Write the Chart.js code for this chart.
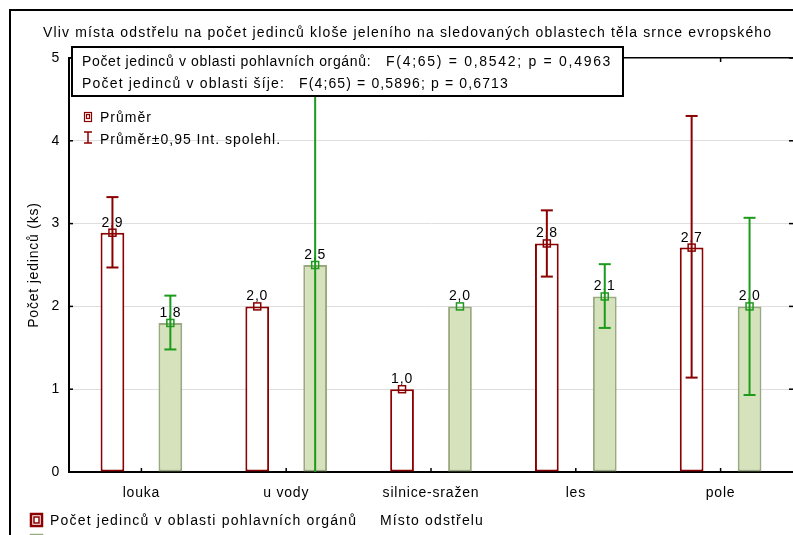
<!DOCTYPE html>
<html>
<head>
<meta charset="utf-8">
<script src="https://cdn.jsdelivr.net/npm/chart.js@4.4.0/dist/chart.umd.min.js"></script>
<style>
  html, body { margin: 0; padding: 0; background: #fff; }
  #wrap { width: 793px; height: 535px; position: relative; overflow: hidden; }
  canvas { display: block; }
</style>
</head>
<body>
<div id="wrap"><canvas id="c" width="793" height="535"></canvas></div>
<script>
// Hunting site categories
const categories = ['louka', 'u vody', 'silnice-sražen', 'les', 'pole'];

// Mean counts and 95 % confidence limits – genital region
const genitalMean = [2.89, 2.00, 1.00, 2.76, 2.71];
const genitalLow  = [2.47, 2.00, 1.00, 2.36, 1.14];
const genitalHigh = [3.32, 2.00, 1.00, 3.16, 4.30];

// Mean counts and 95 % confidence limits – neck region
const neckMean = [1.80, 2.50, 2.00, 2.12, 2.00];
const neckLow  = [1.48, -0.90, 2.00, 1.74, 0.93];
const neckHigh = [2.13, 5.90, 2.00, 2.51, 3.07];

const yTicks = [0, 1, 2, 3, 4, 5];

const seriesNames = ['Počet jedinců v oblasti pohlavních orgánů', 'Počet jedinců v oblasti šíje'];
const chartTitle = 'Vliv místa odstřelu na počet jedinců kloše jeleního na sledovaných oblastech těla srnce evropského';
const anovaNames = ['Počet jedinců v oblasti pohlavních orgánů:', 'Počet jedinců v oblasti šíje:'];
const anovaStats = ['F(4;65) = 0,8542; p = 0,4963', 'F(4;65) = 0,5896; p = 0,6713'];
const yTitle = 'Počet jedinců (ks)';
const xTitle = 'Místo odstřelu';
const legendMean = 'Průměr';
const legendCI = 'Průměr±0,95 Int. spolehl.';

const RED = '#8b0000';
const GREEN = '#1c9a1c';
const FONT = '"Liberation Sans", Arial, sans-serif';

function fmt(v) { return v.toFixed(1).replace('.', ','); }

function seg(ctx, x1, y1, x2, y2) {
  ctx.beginPath(); ctx.moveTo(x1, y1); ctx.lineTo(x2, y2); ctx.stroke();
}

// draw a left-aligned string spread evenly over the span [x1, x2]
function spanText(ctx, text, x1, x2, y) {
  ctx.save();
  ctx.letterSpacing = '0px';
  const w0 = ctx.measureText(text).width;
  const ls = (x2 - x1 - w0) / text.length;
  ctx.letterSpacing = ls.toFixed(2) + 'px';
  ctx.textAlign = 'left';
  ctx.fillText(text, x1, y);
  ctx.restore();
}

const overlay = {
  id: 'overlay',
  beforeDraw(chart) {
    chart.ctx.letterSpacing = '0.8px';
  },
  afterDatasetsDraw(chart) {
    const ctx = chart.ctx, a = chart.chartArea;
    const xs = chart.scales.x, ys = chart.scales.y;
    ctx.save();

    // inward tick marks on all four sides
    ctx.strokeStyle = '#000'; ctx.lineWidth = 1.5;
    categories.forEach((c, i) => {
      const px = xs.getPixelForTick(i);
      seg(ctx, px, a.bottom, px, a.bottom - 4);
      seg(ctx, px, a.top, px, a.top + 4);
    });
    yTicks.forEach(v => {
      const py = ys.getPixelForValue(v);
      seg(ctx, a.left, py, a.left + 4, py);
      seg(ctx, a.right, py, a.right - 4, py);
    });

    // value labels above bars
    ctx.font = '14px ' + FONT;
    ctx.fillStyle = '#000';
    ctx.textAlign = 'center';
    ctx.textBaseline = 'alphabetic';
    chart.data.datasets.forEach((ds, di) => {
      chart.getDatasetMeta(di).data.forEach((bar, i) => {
        ctx.fillText(fmt(ds.data[i]), bar.x, bar.y - 6);
      });
    });

    // confidence interval whiskers and mean markers
    ctx.beginPath();
    ctx.rect(a.left, a.top, a.right - a.left, a.bottom - a.top);
    ctx.clip();
    chart.data.datasets.forEach((ds, di) => {
      ctx.strokeStyle = ds.whiskerColor;
      chart.getDatasetMeta(di).data.forEach((bar, i) => {
        const lo = ds.low[i], hi = ds.high[i];
        const x = bar.x;
        if (hi > lo) {
          const yl = ys.getPixelForValue(lo), yh = ys.getPixelForValue(hi);
          ctx.lineWidth = 2;
          seg(ctx, x, yl, x, yh);
          seg(ctx, x - 6, yl, x + 6, yl);
          seg(ctx, x - 6, yh, x + 6, yh);
        }
        ctx.lineWidth = 1.5;
        const ym = ys.getPixelForValue(ds.data[i]);
        ctx.strokeRect(x - 3.5, ym - 3.5, 7, 7);
      });
    });
    ctx.restore();
  },
  afterDraw(chart) {
    const ctx = chart.ctx;
    ctx.save();
    ctx.letterSpacing = '0.8px';
    ctx.font = '14px ' + FONT;
    ctx.fillStyle = '#000';
    ctx.textAlign = 'left';
    ctx.textBaseline = 'alphabetic';

    // title
    spanText(ctx, chartTitle, 43, 772, 37);

    // ANOVA results box
    ctx.fillStyle = '#fff';
    ctx.fillRect(72, 47, 551, 49);
    ctx.strokeStyle = '#000'; ctx.lineWidth = 2;
    ctx.strokeRect(72, 47, 551, 49);
    ctx.fillStyle = '#000';
    spanText(ctx, anovaNames[0], 82, 371, 66);
    spanText(ctx, anovaStats[0], 386, 612, 66);
    spanText(ctx, anovaNames[1], 82, 285, 88);
    spanText(ctx, anovaStats[1], 299, 509, 88);

    // in-plot legend for mean and interval
    ctx.strokeStyle = RED; ctx.lineWidth = 1.2;
    ctx.strokeRect(84.5, 112.5, 7, 9);
    ctx.strokeRect(86.5, 114.5, 3, 4);
    ctx.lineWidth = 1.5;
    seg(ctx, 88, 132, 88, 143);
    seg(ctx, 84, 132, 92, 132);
    seg(ctx, 84, 143, 92, 143);
    spanText(ctx, legendMean, 100, 152, 122);
    spanText(ctx, legendCI, 100, 281, 144);

    // series legend below the axis
    ctx.strokeStyle = RED; ctx.lineWidth = 2.5;
    ctx.strokeRect(31, 514, 11, 12);
    ctx.lineWidth = 1.5;
    ctx.strokeRect(34, 517, 5, 6);
    spanText(ctx, seriesNames[0], 50, 357, 525);
    spanText(ctx, xTitle, 380, 484, 525);
    ctx.strokeStyle = '#9aaa80'; ctx.fillStyle = '#d6e2bc'; ctx.lineWidth = 2.5;
    ctx.fillRect(31, 535, 11, 12);
    ctx.strokeRect(31, 535, 11, 12);
    ctx.fillStyle = '#000';
    ctx.fillText(seriesNames[1], 50, 547);

    // outer frame
    ctx.strokeStyle = '#000'; ctx.lineWidth = 2;
    seg(ctx, 10, 10, 10, 540);
    seg(ctx, 9, 10, 800, 10);
    ctx.restore();
  }
};

new Chart(document.getElementById('c'), {
  type: 'bar',
  data: {
    labels: categories,
    datasets: [
      {
        label: seriesNames[0],
        data: genitalMean,
        low: genitalLow,
        high: genitalHigh,
        whiskerColor: RED,
        backgroundColor: '#ffffff',
        borderColor: RED,
        borderWidth: 2,
        borderSkipped: false,
        categoryPercentage: 0.8,
        barPercentage: 0.41
      },
      {
        label: seriesNames[1],
        data: neckMean,
        low: neckLow,
        high: neckHigh,
        whiskerColor: GREEN,
        backgroundColor: '#d6e2bc',
        borderColor: '#9aaa80',
        borderWidth: 2,
        borderSkipped: false,
        categoryPercentage: 0.8,
        barPercentage: 0.41
      }
    ]
  },
  options: {
    responsive: false,
    animation: false,
    devicePixelRatio: 1,
    layout: { padding: { top: 58, left: 22, right: 0, bottom: 0 } },
    plugins: {
      legend: { display: false },
      title: { display: false },
      tooltip: { enabled: false }
    },
    scales: {
      x: {
        grid: { display: false },
        border: { display: true, color: '#000', width: 2 },
        ticks: { color: '#000', font: { family: FONT, size: 14 }, padding: 5, maxRotation: 0 },
        afterFit(s) { s.height = 63; }
      },
      y: {
        min: 0, max: 5,
        afterBuildTicks(s) { s.ticks = yTicks.map(v => ({ value: v })); },
        grid: {
          drawTicks: false,
          color: c => (c.tick.value === 5 ? '#000' : c.tick.value === 0 ? 'rgba(0,0,0,0)' : '#dedede'),
          lineWidth: c => (c.tick.value === 5 ? 1.5 : 1)
        },
        border: { display: true, color: '#000', width: 2 },
        ticks: { color: '#000', font: { family: FONT, size: 14 }, padding: 9 },
        title: { display: true, text: yTitle, color: '#000', font: { family: FONT, size: 14 }, padding: { top: 4, bottom: 0 } },
        afterFit(s) { s.width = 47; }
      }
    }
  },
  plugins: [overlay]
});
</script>
</body>
</html>
